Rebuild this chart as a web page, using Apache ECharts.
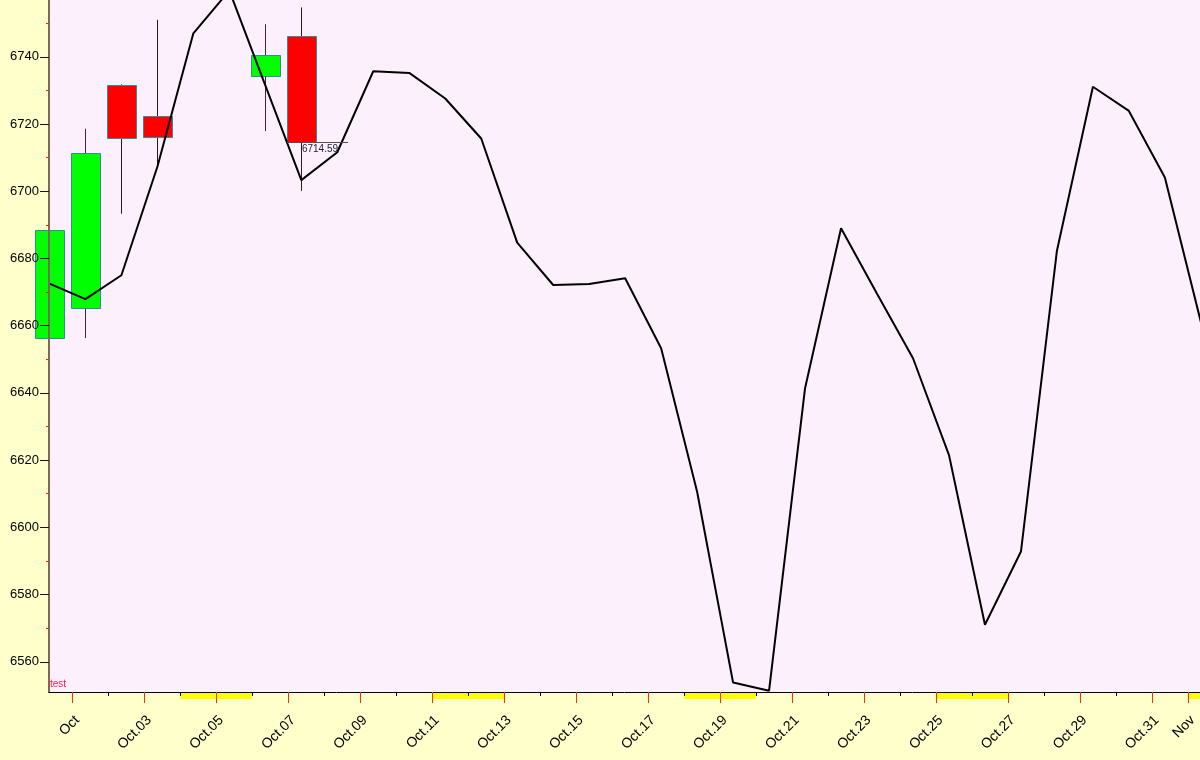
<!DOCTYPE html>
<html>
<head>
<meta charset="utf-8">
<script src="https://cdn.jsdelivr.net/npm/echarts@6/dist/echarts.min.js"></script>
<style>
  html, body { margin: 0; padding: 0; background: #FFFFCC; }
  #chart { width: 1200px; height: 760px; }
</style>
</head>
<body>
<div id="chart"></div>
<script>
// ---------- data ----------
const lineDates = ['Sep 30','Oct 01','Oct 02','Oct 03','Oct 04','Oct 05','Oct 06','Oct 07','Oct 08','Oct 09',
  'Oct 10','Oct 11','Oct 12','Oct 13','Oct 14','Oct 15','Oct 16','Oct 17','Oct 18','Oct 19','Oct 20',
  'Oct 21','Oct 22','Oct 23','Oct 24','Oct 25','Oct 26','Oct 27','Oct 28','Oct 29','Oct 30','Oct 31','Nov 01'];
const lineValues = [6672.5, 6667.9, 6675.0, 6707.3, 6747.0, 6759.7, 6731.5, 6703.3, 6711.6, 6735.7,
  6735.2, 6727.6, 6715.7, 6684.7, 6672.1, 6672.4, 6674.1, 6653.3, 6610.6, 6553.8, 6551.4,
  6641.4, 6689.0, 6669.5, 6650.3, 6621.5, 6571.0, 6592.8, 6682.3, 6731.1, 6723.9, 6704.1, 6661.1];

const candleDates = ['Sep 30','Oct 01','Oct 02','Oct 03','Oct 06','Oct 07'];
const candleOpen  = [6656.4, 6665.3, 6731.5, 6722.5, 6734.3, 6746.2];
const candleClose = [6688.5, 6711.3, 6715.8, 6716.3, 6740.5, 6714.59];
const candleLow   = [6641.1, 6656.3, 6693.3, 6707.8, 6717.9, 6700.1];
const candleHigh  = [6691.1, 6718.6, 6731.8, 6751.0, 6749.7, 6754.7];

const weekendStarts = ['Oct 04','Oct 11','Oct 18','Oct 25','Nov 01'];
const weekendLength = 2; // days

const xMajorDates  = ['Oct 01','Oct 03','Oct 05','Oct 07','Oct 09','Oct 11','Oct 13','Oct 15','Oct 17',
  'Oct 19','Oct 21','Oct 23','Oct 25','Oct 27','Oct 29','Oct 31','Nov 01'];
const xMajorLabels = ['Oct','Oct.03','Oct.05','Oct.07','Oct.09','Oct.11','Oct.13','Oct.15','Oct.17',
  'Oct.19','Oct.21','Oct.23','Oct.25','Oct.27','Oct.29','Oct.31','Nov'];
const xMinorDates  = ['Oct 02','Oct 04','Oct 06','Oct 08','Oct 10','Oct 12','Oct 14','Oct 16','Oct 18',
  'Oct 20','Oct 22','Oct 24','Oct 26','Oct 28','Oct 30'];

const yMajorTicks = [6560, 6580, 6600, 6620, 6640, 6660, 6680, 6700, 6720, 6740];
const yMinorTicks = [6570, 6590, 6610, 6630, 6650, 6670, 6690, 6710, 6730, 6750];
const yMin = 6551.0, yMax = 6756.9;
const xMinDate = 'Sep 30', xMinTime = 0.352;   // left edge of plot
const xMaxDate = 'Nov 01', xMaxTime = 0.34;    // right edge of plot
const sampleTime = 0.364;                      // time of day of each bar/point
const chartLabel = 'test';

// ---------- helpers ----------
function dayOffset(s) {
  const parts = s.split(' ');
  const base = { Sep: -30, Oct: 0, Nov: 31 }[parts[0]];
  return base + Number(parts[1]) - 1;
}
const xMin = dayOffset(xMinDate) + xMinTime;
const xMax = dayOffset(xMaxDate) + xMaxTime;

const lineData = lineDates.map((d, i) => [dayOffset(d) + sampleTime, lineValues[i]]);
const candleData = candleDates.map((d, i) => [dayOffset(d) + sampleTime, candleOpen[i], candleClose[i], candleLow[i], candleHigh[i]]);
const weekendData = weekendStarts.map(d => [dayOffset(d), dayOffset(d) + weekendLength]);
const majorX = xMajorDates.map(dayOffset);
const minorX = xMinorDates.map(dayOffset);
const labelMap = {};
majorX.forEach((v, i) => { labelMap[v] = xMajorLabels[i]; });

const last = candleData[candleData.length - 1];

const chart = echarts.init(document.getElementById('chart'), null, { renderer: 'canvas' });

const option = {
  animation: false,
  backgroundColor: '#FFFFCC',
  title: {
    text: chartLabel, left: 50, top: 679, padding: 0,
    textStyle: { fontSize: 10, fontWeight: 'normal', color: '#ff1a4a', fontFamily: 'Liberation Sans' }
  },
  grid: {
    left: 49, right: 0, top: 0, bottom: 68,
    show: true, backgroundColor: '#FDF0FD', borderWidth: 0
  },
  xAxis: [
    {
      type: 'value', min: xMin, max: xMax, position: 'bottom', z: 5,
      splitLine: { show: false },
      axisLine: { show: true, onZero: false, lineStyle: { color: '#000000', width: 1 } },
      axisTick: { show: true, length: 11, customValues: majorX, lineStyle: { color: '#ff2a00', width: 1 } },
      axisLabel: {
        show: true, customValues: majorX, rotate: 45, margin: 21, hideOverlap: false,
        verticalAlign: 'top',
        fontSize: 14, color: '#000000', fontFamily: 'Liberation Sans',
        formatter: v => labelMap[v] !== undefined ? labelMap[v] : ''
      }
    },
    {
      type: 'value', min: xMin, max: xMax, position: 'bottom', z: 5,
      splitLine: { show: false },
      axisLine: { show: false, onZero: false },
      axisTick: { show: true, length: 4, customValues: minorX, lineStyle: { color: '#000000', width: 1 } },
      axisLabel: { show: false }
    }
  ],
  yAxis: [
    {
      type: 'value', min: yMin, max: yMax, position: 'left', z: 5,
      splitLine: { show: false },
      axisLine: { show: true, onZero: false, lineStyle: { color: '#7a6a5c', width: 2 } },
      axisTick: { show: true, length: 9, customValues: yMajorTicks, lineStyle: { color: '#2a0a0a', width: 1 } },
      axisLabel: {
        show: true, customValues: yMajorTicks, margin: 10,
        fontSize: 13, color: '#000000', fontFamily: 'Liberation Sans',
        formatter: v => String(v)
      }
    },
    {
      type: 'value', min: yMin, max: yMax, position: 'left', z: 5,
      splitLine: { show: false },
      axisLine: { show: false, onZero: false },
      axisTick: { show: true, length: 3, customValues: yMinorTicks, lineStyle: { color: '#ff2000', width: 1 } },
      axisLabel: { show: false }
    }
  ],
  series: [
    {
      name: 'weekends',
      type: 'custom',
      z: 1,
      silent: true,
      clip: false,
      data: weekendData,
      renderItem: function (params, api) {
        const p0 = api.coord([api.value(0), yMin]);
        const p1 = api.coord([api.value(1), yMin]);
        const right = params.coordSys.x + params.coordSys.width;
        const x1 = Math.min(p1[0], right);
        return {
          type: 'rect',
          shape: { x: p0[0], y: p0[1], width: x1 - p0[0], height: 7 },
          style: { fill: '#FFFF00' }
        };
      }
    },
    {
      name: 'candles',
      type: 'custom',
      z: 2,
      clip: false,
      data: candleData,
      renderItem: function (params, api) {
        const x = api.value(0), o = api.value(1), c = api.value(2), l = api.value(3), h = api.value(4);
        const pO = api.coord([x, o]), pC = api.coord([x, c]), pL = api.coord([x, l]), pH = api.coord([x, h]);
        const w = 29;
        const up = c >= o;
        const cx = Math.round(pO[0]) + 0.5;
        const top = Math.min(pO[1], pC[1]);
        return {
          type: 'group',
          children: [
            {
              type: 'line',
              shape: { x1: cx, y1: pH[1], x2: cx, y2: pL[1] },
              style: { stroke: up ? '#4a2038' : '#2a1a1a', lineWidth: 1 }
            },
            {
              type: 'rect',
              shape: { x: Math.round(cx - w / 2) + 0.5, y: Math.round(top) + 0.5, width: w, height: Math.round(Math.abs(pO[1] - pC[1])) },
              style: { fill: up ? '#00FF00' : '#FF0000', stroke: '#2f8c9c', lineWidth: 1 }
            }
          ]
        };
      }
    },
    {
      name: 'line',
      type: 'line',
      z: 3,
      data: lineData,
      symbol: 'none',
      clip: true,
      lineStyle: { color: '#000000', width: 2 },
      markLine: {
        silent: true,
        symbol: 'none',
        lineStyle: { color: '#5a4a4a', width: 1, type: 'solid' },
        label: {
          show: true,
          position: 'insideStartBottom',
          distance: [15, 2],
          formatter: String(last[2]),
          fontSize: 10,
          color: '#1a1a3a',
          fontFamily: 'Liberation Sans'
        },
        data: [[{ coord: [last[0] - 0.4, last[2]] }, { coord: [last[0] + 1.3, last[2]] }]]
      }
    }
  ]
};

chart.setOption(option);
</script>
</body>
</html>
